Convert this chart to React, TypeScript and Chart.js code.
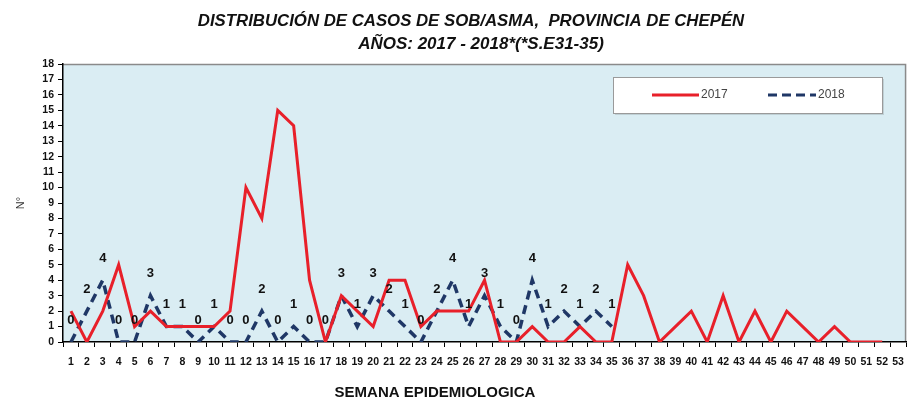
import React, { useEffect, useRef } from 'react';
import { Chart, registerables } from 'chart.js';

Chart.register(...registerables);

const weeks: string[] = ['1','2','3','4','5','6','7','8','9','10','11','12','13','14','15','16','17','18','19','20','21','22','23','24','25','26','27','28','29','30','31','32','33','34','35','36','37','38','39','40','41','42','43','44','45','46','47','48','49','50','51','52','53'];

const cases2017: (number | null)[] = [2,0,2,5,1,2,1,1,1,1, 2,10,8,15,14,4,0,3,2,1, 4,4,1,2,2,2,4,0,0,1, 0,0,1,0,0,5,3,0,1,2, 0,3,0,2,0,2,1,0,1,0, 0,0,null];

const cases2018: (number | null)[] = [0,2,4,0,0,3,1,1,0,1, 0,0,2,0,1,0,0,3,1,3, 2,1,0,2,4,1,3,1,0,4, 1,2,1,2,1, null,null,null,null,null, null,null,null,null,null,null,null,null,null,null, null,null,null];

const seriesNames: string[] = ['2017', '2018'];
const yTicksMax = 18;

const titleLine1 = 'DISTRIBUCIÓN DE CASOS DE SOB/ASMA,  PROVINCIA DE CHEPÉN';
const titleLine2 = 'AÑOS: 2017 - 2018*(*S.E31-35)';
const xTitle = 'SEMANA EPIDEMIOLOGICA';
const yTitle = 'N°';

const RED = '#e8202a';
const NAVY = '#1f3766';
const BG = '#daedf3';
const FONT = "'Liberation Sans', Arial, sans-serif";

const bgPlugin = {
  id: 'bgPlugin',
  beforeDraw(chart: any) {
    const { ctx, chartArea: a } = chart;
    ctx.save();
    ctx.fillStyle = '#ffffff';
    ctx.fillRect(0, 0, chart.width, chart.height);
    ctx.fillStyle = BG;
    ctx.fillRect(a.left, a.top, a.right - a.left, a.bottom - a.top);
    ctx.strokeStyle = '#8a8a8a';
    ctx.lineWidth = 1.5;
    ctx.beginPath();
    ctx.moveTo(a.left, a.top + 0.5);
    ctx.lineTo(a.right - 0.5, a.top + 0.5);
    ctx.lineTo(a.right - 0.5, a.bottom);
    ctx.stroke();
    ctx.restore();
  },
};

const textPlugin = {
  id: 'textPlugin',
  afterDatasetsDraw(chart: any) {
    const { ctx } = chart;
    const meta = chart.getDatasetMeta(1);
    const data = chart.data.datasets[1].data;
    ctx.save();
    ctx.fillStyle = '#111111';
    ctx.font = `bold 13px ${FONT}`;
    ctx.textAlign = 'center';
    ctx.textBaseline = 'middle';
    meta.data.forEach((pt: any, i: number) => {
      const v = data[i];
      if (v === null || v === undefined) return;
      ctx.fillText(String(v), pt.x, pt.y - 22);
    });
    ctx.restore();
  },
  afterDraw(chart: any) {
    const { ctx, chartArea: a } = chart;
    ctx.save();
    // titles
    ctx.fillStyle = '#111111';
    ctx.textAlign = 'center';
    ctx.textBaseline = 'middle';
    ctx.font = `italic bold 16.8px ${FONT}`;
    ctx.fillText(titleLine1, 471, 21);
    ctx.font = `italic bold 17px ${FONT}`;
    ctx.fillText(titleLine2, 481, 44);
    ctx.font = `bold 15px ${FONT}`;
    ctx.fillText(xTitle, 435, 393);

    // legend
    const lx = a.left + 550;
    const ly = a.top + 13;
    const lw = 269;
    const lh = 36;
    ctx.fillStyle = 'rgba(0,0,0,0.12)';
    ctx.fillRect(lx + 2, ly + 2, lw, lh);
    ctx.fillStyle = '#ffffff';
    ctx.fillRect(lx, ly, lw, lh);
    ctx.strokeStyle = '#9a9a9a';
    ctx.lineWidth = 1;
    ctx.strokeRect(lx + 0.5, ly + 0.5, lw, lh);
    const cy = ly + lh / 2;
    ctx.lineWidth = 3;
    ctx.strokeStyle = RED;
    ctx.beginPath();
    ctx.moveTo(lx + 39, cy);
    ctx.lineTo(lx + 86, cy);
    ctx.stroke();
    ctx.strokeStyle = NAVY;
    ctx.setLineDash([9, 5]);
    ctx.beginPath();
    ctx.moveTo(lx + 155, cy);
    ctx.lineTo(lx + 203, cy);
    ctx.stroke();
    ctx.setLineDash([]);
    ctx.fillStyle = '#444444';
    ctx.font = `12px ${FONT}`;
    ctx.textAlign = 'left';
    ctx.fillText(seriesNames[0], lx + 88, cy);
    ctx.fillText(seriesNames[1], lx + 205, cy);
    ctx.restore();
  },
};

export default function App() {
  const ref = useRef<HTMLCanvasElement | null>(null);

  useEffect(() => {
    document.body.style.margin = '0';
    if (!ref.current) return;
    const chart = new Chart(ref.current, {
      type: 'line',
      data: {
        labels: weeks,
        datasets: [
          {
            label: seriesNames[0],
            data: cases2017,
            borderColor: RED,
            borderWidth: 3,
            pointRadius: 0,
            tension: 0,
            spanGaps: false,
          },
          {
            label: seriesNames[1],
            data: cases2018,
            borderColor: NAVY,
            borderWidth: 3.5,
            borderDash: [9, 6],
            pointRadius: 0,
            tension: 0,
            spanGaps: false,
          },
        ],
      },
      options: {
        animation: false,
        responsive: false,
        devicePixelRatio: 1,
        layout: { padding: { top: 64, right: 5, left: 0, bottom: 0 } },
        plugins: {
          legend: { display: false },
          tooltip: { enabled: false },
          title: { display: false },
        },
        scales: {
          x: {
            type: 'category',
            offset: true,
            afterFit(scale: any) { scale.height = 60; },
            grid: { offset: true, drawOnChartArea: false, drawTicks: true, tickLength: 5, color: '#000000' },
            border: { display: true, color: '#000000', width: 1.5 },
            ticks: {
              autoSkip: false,
              maxRotation: 0,
              minRotation: 0,
              padding: 9,
              color: '#111111',
              font: { family: FONT, size: 10.5, weight: 'bold' },
            },
          },
          y: {
            min: 0,
            max: yTicksMax,
            afterFit(scale: any) { scale.width = 63; },
            grid: { drawOnChartArea: false, drawTicks: true, tickLength: 5, color: '#000000' },
            border: { display: true, color: '#000000', width: 1.5 },
            ticks: {
              stepSize: 1,
              autoSkip: false,
              padding: 4,
              color: '#111111',
              font: { family: FONT, size: 10.5, weight: 'bold' },
            },
            title: {
              display: true,
              text: yTitle,
              padding: { top: 14, bottom: 0 },
              color: '#333333',
              font: { family: FONT, size: 11 },
            },
          },
        },
      },
      plugins: [bgPlugin, textPlugin],
    } as any);
    return () => chart.destroy();
  }, []);

  return <canvas ref={ref} width={913} height={402} style={{ display: 'block' }} />;
}
